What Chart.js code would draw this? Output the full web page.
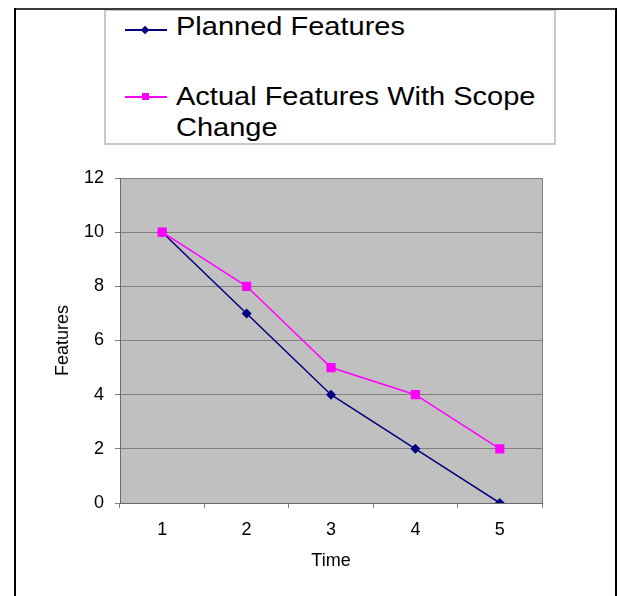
<!DOCTYPE html>
<html>
<head>
<meta charset="utf-8">
<script src="https://cdn.jsdelivr.net/npm/chart.js@4/dist/chart.umd.min.js"></script>
<style>
  html, body { margin: 0; padding: 0; background: #fff; }
  #wrap { position: relative; width: 617px; height: 596px; overflow: hidden; font-family: "Liberation Sans", Arial, sans-serif; }
  #chart { position: absolute; left: 0; top: 0; }
  .frame { position: absolute; }
  #legend { position: absolute; left: 104px; top: 9px; width: 452px; height: 136px; box-sizing: border-box; border: 2px solid #c8c8c8; background: #fff; }
  .lg-text { position: absolute; left: 176px; font-size: 25px; line-height: 31px; color: #000; white-space: nowrap; transform: scaleX(1.16); transform-origin: left top; }
  .lg-line { position: absolute; left: 125px; width: 42px; height: 2px; }
  .lg-mark { position: absolute; }
</style>
</head>
<body>
<div id="wrap">
  <canvas id="chart" width="617" height="596"></canvas>
  <div id="legend"></div>
  <div class="frame" style="left:14px; top:8px; width:603px; height:2px; background:#3a3a3a;"></div>
  <div class="frame" style="left:14px; top:8px; width:2px; height:588px; background:#000;"></div>
  <div class="frame" style="left:615px; top:8px; width:2px; height:588px; background:#000;"></div>
  <div class="lg-line" style="top:29px; background:#000080;"></div>
  <div class="lg-mark" style="left:142px; top:27px; width:6px; height:6px; background:#000080; transform:rotate(45deg);"></div>
  <div class="lg-text" style="top:11px;">Planned Features</div>
  <div class="lg-line" style="top:96px; background:#ff00ff;"></div>
  <div class="lg-mark" style="left:142px; top:93px; width:7px; height:7px; background:#ff00ff;"></div>
  <div class="lg-text" style="top:81px;">Actual Features With Scope<br>Change</div>
</div>
<script>
// --- DATA ---
const timeLabels = ['1', '2', '3', '4', '5'];
const plannedFeatures = [10, 7, 4, 2, 0];
const actualFeatures = [10, 8, 5, 4, 2];
const yTicks = { min: 0, max: 12, step: 2 };

const COLORS = {
    planned: '#000080',
    actual: '#ff00ff',
    plot: '#c0c0c0',
    grid: '#808080',
    axis: '#6a6a6a'
};

const FONT = { family: '"Liberation Sans", Arial, sans-serif', size: 18 };

// gray plot area with border, like the spreadsheet chart
const plotBackground = {
    id: 'plotBackground',
    beforeDraw(chart) {
        const { ctx, chartArea: a } = chart;
        ctx.save();
        ctx.fillStyle = COLORS.plot;
        ctx.fillRect(a.left, a.top, a.right - a.left, a.bottom - a.top);
        ctx.strokeStyle = COLORS.grid;
        ctx.lineWidth = 1;
        ctx.strokeRect(Math.round(a.left) + 0.5, Math.round(a.top) + 0.5, Math.round(a.right - a.left), Math.round(a.bottom - a.top));
        ctx.restore();
    }
};

const ctx = document.getElementById('chart').getContext('2d');
new Chart(ctx, {
    type: 'line',
    data: {
        labels: timeLabels,
        datasets: [
            {
                label: 'Planned Features',
                data: plannedFeatures,
                borderColor: COLORS.planned,
                backgroundColor: COLORS.planned,
                borderWidth: 1.5,
                pointStyle: 'rectRot',
                pointRadius: 5,
                pointBorderWidth: 0,
                tension: 0,
                order: 2
            },
            {
                label: 'Actual Features With Scope Change',
                data: actualFeatures,
                borderColor: COLORS.actual,
                backgroundColor: COLORS.actual,
                borderWidth: 1.5,
                pointStyle: 'rect',
                pointRadius: 6.5,
                pointBorderWidth: 0,
                tension: 0,
                order: 1
            }
        ]
    },
    options: {
        responsive: false,
        animation: false,
        layout: { padding: { left: 40, top: 178, right: 75, bottom: 0 } },
        plugins: {
            legend: { display: false },
            tooltip: { enabled: false }
        },
        scales: {
            x: {
                offset: true,
                grid: { offset: true, drawOnChartArea: false, drawTicks: true, tickLength: 5, color: COLORS.grid },
                border: { color: COLORS.axis, width: 1 },
                ticks: { color: '#000', font: FONT, padding: 11, maxRotation: 0 },
                title: { display: true, text: 'Time', color: '#000', font: FONT, padding: { top: 0, bottom: 24 } },
                afterFit(scale) { scale.height = 93; }
            },
            y: {
                min: yTicks.min,
                max: yTicks.max,
                grid: { color: COLORS.grid, tickLength: 5 },
                border: { color: COLORS.axis, width: 1 },
                ticks: { stepSize: yTicks.step, color: '#000', font: FONT, padding: 11 },
                title: { display: true, text: 'Features', color: '#000', font: FONT, padding: { top: 12, bottom: 0 } },
                afterFit(scale) { scale.width = 80; }
            }
        }
    },
    plugins: [plotBackground]
});
</script>
</body>
</html>
